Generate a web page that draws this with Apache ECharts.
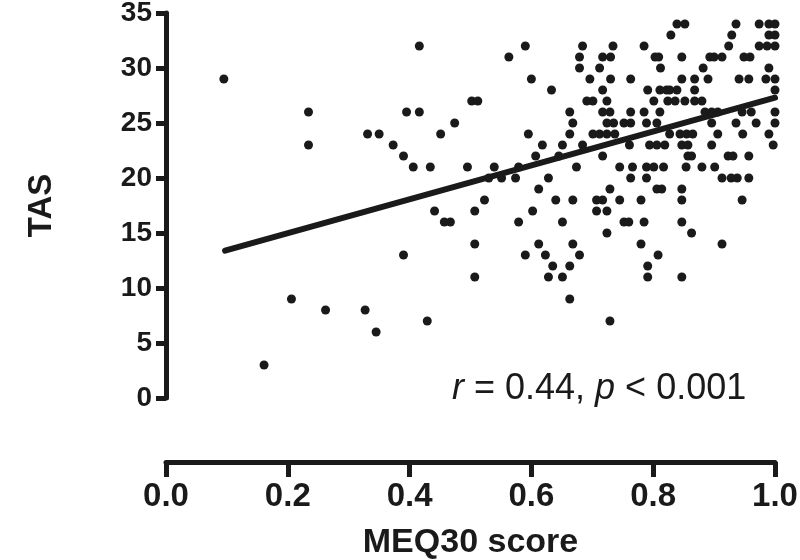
<!DOCTYPE html>
<html>
<head>
<meta charset="utf-8">
<script src="https://cdn.jsdelivr.net/npm/echarts@6/dist/echarts.min.js"></script>
<style>
  html, body { margin: 0; padding: 0; background: #fff; }
  #chart { width: 800px; height: 560px; }
</style>
</head>
<body>
<div id="chart"></div>
<script>
// MEQ30 score (x) and TAS (y), one line per TAS level
var meq = [
  0.839, 0.852, 0.936, 0.974, 0.990, 1.0,
  0.829, 0.929, 0.990, 1.0,
  0.416, 0.590, 0.684, 0.734, 0.785, 0.924, 0.974, 0.987, 1.0,
  0.563, 0.679, 0.717, 0.730, 0.803, 0.809, 0.847, 0.893, 0.900, 0.913, 0.949, 0.959,
  0.679, 0.712, 0.812, 0.882, 0.990,
  0.095, 0.600, 0.696, 0.730, 0.763, 0.847, 0.868, 0.890, 0.941, 0.957, 0.985, 1.0,
  0.633, 0.717, 0.791, 0.811, 0.822, 0.827, 0.839, 0.868, 1.0,
  0.502, 0.512, 0.691, 0.701, 0.724, 0.801, 0.824, 0.836, 0.852, 0.868, 0.880,
  0.234, 0.395, 0.416, 0.663, 0.717, 0.729, 0.763, 0.785, 0.811, 0.885, 0.896, 0.906, 0.946, 0.961, 1.0,
  0.474, 0.668, 0.724, 0.735, 0.752, 0.763, 0.789, 0.806, 0.896, 0.936, 0.969, 1.0,
  0.331, 0.350, 0.451, 0.595, 0.663, 0.701, 0.712, 0.724, 0.737, 0.827, 0.844, 0.855, 0.865, 0.906, 0.947, 0.990,
  0.234, 0.373, 0.618, 0.651, 0.684, 0.761, 0.794, 0.806, 0.819, 0.847, 0.857, 0.896, 0.997,
  0.390, 0.607, 0.645, 0.717, 0.857, 0.863, 0.923, 0.931, 0.957,
  0.406, 0.434, 0.495, 0.539, 0.579, 0.674, 0.745, 0.766, 0.789, 0.801, 0.817, 0.854, 0.880, 0.901,
  0.530, 0.551, 0.574, 0.628, 0.763, 0.789, 0.913, 0.928, 0.938, 0.957,
  0.612, 0.729, 0.806, 0.814, 0.847,
  0.523, 0.640, 0.668, 0.707, 0.717, 0.745, 0.780, 0.847, 0.946,
  0.441, 0.507, 0.602, 0.707, 0.724,
  0.457, 0.467, 0.579, 0.651, 0.752, 0.760, 0.785, 0.847,
  0.724, 0.863,
  0.507, 0.612, 0.668, 0.780, 0.913,
  0.390, 0.590, 0.623, 0.679, 0.808,
  0.635, 0.663, 0.791,
  0.507, 0.628, 0.651, 0.791, 0.847,
  0.206, 0.663,
  0.262, 0.327,
  0.429, 0.729,
  0.345,
  0.161
];
var tas = [
  34, 34, 34, 34, 34, 34,
  33, 33, 33, 33,
  32, 32, 32, 32, 32, 32, 32, 32, 32,
  31, 31, 31, 31, 31, 31, 31, 31, 31, 31, 31, 31,
  30, 30, 30, 30, 30,
  29, 29, 29, 29, 29, 29, 29, 29, 29, 29, 29, 29,
  28, 28, 28, 28, 28, 28, 28, 28, 28,
  27, 27, 27, 27, 27, 27, 27, 27, 27, 27, 27,
  26, 26, 26, 26, 26, 26, 26, 26, 26, 26, 26, 26, 26, 26, 26,
  25, 25, 25, 25, 25, 25, 25, 25, 25, 25, 25, 25,
  24, 24, 24, 24, 24, 24, 24, 24, 24, 24, 24, 24, 24, 24, 24, 24,
  23, 23, 23, 23, 23, 23, 23, 23, 23, 23, 23, 23, 23,
  22, 22, 22, 22, 22, 22, 22, 22, 22,
  21, 21, 21, 21, 21, 21, 21, 21, 21, 21, 21, 21, 21, 21,
  20, 20, 20, 20, 20, 20, 20, 20, 20, 20,
  19, 19, 19, 19, 19,
  18, 18, 18, 18, 18, 18, 18, 18, 18,
  17, 17, 17, 17, 17,
  16, 16, 16, 16, 16, 16, 16, 16,
  15, 15,
  14, 14, 14, 14, 14,
  13, 13, 13, 13, 13,
  12, 12, 12,
  11, 11, 11, 11, 11,
  9, 9,
  8, 8,
  7, 7,
  6,
  3
];
// regression line end points
var fitX = [0.097, 1.0];
var fitY = [13.4, 27.3];

var INK = '#1a1a1a';
var FONT = '"Liberation Sans", Arial, sans-serif';

var points = meq.map(function (x, i) { return [x, tas[i]]; });
var fit = fitX.map(function (x, i) { return [x, fitY[i]]; });

var chart = echarts.init(document.getElementById('chart'));
chart.setOption({
  animation: false,
  backgroundColor: '#fff',
  grid: { left: 166, right: 25, top: 13, bottom: 162, containLabel: false, outerBoundsMode: 'none' },
  xAxis: {
    type: 'value',
    min: 0,
    max: 1,
    interval: 0.2,
    offset: 64,
    name: 'MEQ30 score',
    nameLocation: 'middle',
    nameGap: 64,
    nameTextStyle: { fontFamily: FONT, fontWeight: 'bold', fontSize: 34, color: INK },
    axisLine: { show: true, onZero: false, lineStyle: { color: INK, width: 5 } },
    axisTick: { show: true, length: 15, lineStyle: { color: INK, width: 5 } },
    axisLabel: {
      fontFamily: FONT, fontWeight: 'bold', fontSize: 33, color: INK, margin: 18,
      formatter: function (v) { return v.toFixed(1); }
    },
    splitLine: { show: false }
  },
  yAxis: {
    type: 'value',
    min: 0,
    max: 35,
    interval: 5,
    name: 'TAS',
    nameLocation: 'middle',
    nameGap: 108,
    nameTextStyle: { fontFamily: FONT, fontWeight: 'bold', fontSize: 33, color: INK },
    axisLine: { show: true, onZero: false, lineStyle: { color: INK, width: 5 } },
    axisTick: { show: true, length: 10, lineStyle: { color: INK, width: 5 } },
    axisLabel: { fontFamily: FONT, fontWeight: 'bold', fontSize: 28, color: INK, margin: 14 },
    splitLine: { show: false }
  },
  series: [
    {
      type: 'scatter',
      data: points,
      symbol: 'circle',
      symbolSize: 9,
      itemStyle: { color: INK, opacity: 1 },
      z: 2
    },
    {
      type: 'line',
      data: fit,
      symbol: 'none',
      lineStyle: { color: INK, width: 6, cap: 'round' },
      z: 3
    }
  ],
  graphic: [{
    type: 'text',
    left: 452,
    top: 371,
    style: {
      text: '{i|r} = 0.44, {i|p} < 0.001',
      fontFamily: FONT,
      fontSize: 36,
      fill: INK,
      rich: {
        i: { fontStyle: 'italic', fontFamily: FONT, fontSize: 36, fill: INK }
      }
    }
  }]
});
</script>
</body>
</html>
